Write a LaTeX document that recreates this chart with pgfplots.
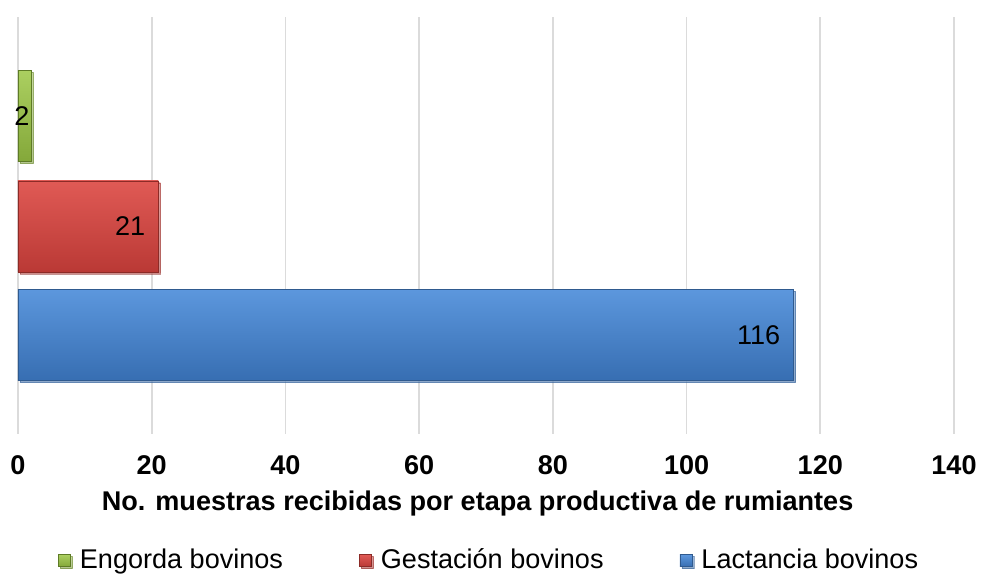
\documentclass[border=0pt]{standalone}
\usepackage{pgfplots}
\pgfplotsset{compat=1.18}
\usepackage{fontspec}
\setmainfont{Liberation Sans}
\usetikzlibrary{shadows}

% bar colours: edge, lighter top, body, darker bottom
\definecolor{grnEdge}{HTML}{5E7B26}
\definecolor{grnTop}{HTML}{ABCF60}
\definecolor{grnMid}{HTML}{96BC48}
\definecolor{grnBot}{HTML}{84A83A}
\definecolor{redEdge}{HTML}{8C2B27}
\definecolor{redTop}{HTML}{E05A55}
\definecolor{redMid}{HTML}{D0433F}
\definecolor{redBot}{HTML}{BA3935}
\definecolor{bluEdge}{HTML}{2F5A8F}
\definecolor{bluTop}{HTML}{5C97DD}
\definecolor{bluMid}{HTML}{3F7DC8}
\definecolor{bluBot}{HTML}{376EB2}

\begin{document}
\fontsize{20.3}{24}\selectfont
\begin{tikzpicture}
\begin{axis}[
  at={(0,0)}, anchor=south west,
  scale only axis, width=702pt, height=312.75pt,
  xmin=0, xmax=140, ymin=0, ymax=417,
  xtick={0,20,...,140},
  ytick=\empty,
  axis line style={draw=none},
  major tick length=0pt,
  xmajorgrids,
  grid style={line width=1.2pt, color=black!14},
  /pgf/number format/assume math mode=true,
  xticklabel style={font=\bfseries, anchor=base, yshift=-30.75pt},
  xlabel={No. muestras recibidas por etapa productiva de rumiantes},
  xlabel style={font=\bfseries, at={(axis description cs:0.491,0)}, anchor=base, yshift=-57.5pt},
  xbar, bar width=91, bar shift=0pt,
  point meta=x,
  nodes near coords,
  every node near coord/.append style={anchor=east, inner sep=0pt, xshift=-9.75pt,
    text=black, font=\normalfont},
  legend columns=3,
  legend style={draw=none, fill=none, inner sep=0pt,
    at={(axis description cs:0.0425,-0.3036)}, anchor=west,
    nodes={inner sep=2pt},
    /tikz/every odd column/.append style={column sep=5pt},
    /tikz/every even column/.append style={column sep=55pt}},
  legend image code/.code={\fill[#1] (0pt,-4.5pt) rectangle (9pt,4.5pt);},
]
% Engorda bovinos
\addplot[draw=grnEdge, top color=grnTop, middle color=grnMid, bottom color=grnBot,
  drop shadow={shadow xshift=1.5pt, shadow yshift=-1.5pt, fill=black!22},
  every node near coord/.append style={xshift=8.5pt}]
  coordinates {(2,318)};
\addlegendentry{Engorda bovinos}
% Gestación bovinos
\addplot[draw=redEdge, top color=redTop, middle color=redMid, bottom color=redBot,
  drop shadow={shadow xshift=1.5pt, shadow yshift=-1.5pt, fill=black!22}]
  coordinates {(21,207.5)};
\addlegendentry{Gestación bovinos}
% Lactancia bovinos
\addplot[draw=bluEdge, top color=bluTop, middle color=bluMid, bottom color=bluBot,
  drop shadow={shadow xshift=1.5pt, shadow yshift=-1.5pt, fill=black!22}]
  coordinates {(116,99)};
\addlegendentry{Lactancia bovinos}
\end{axis}
\pgfresetboundingbox
\path[use as bounding box] (-13.5pt,-107.25pt) rectangle (722.25pt,325.5pt);
\end{tikzpicture}
\end{document}
